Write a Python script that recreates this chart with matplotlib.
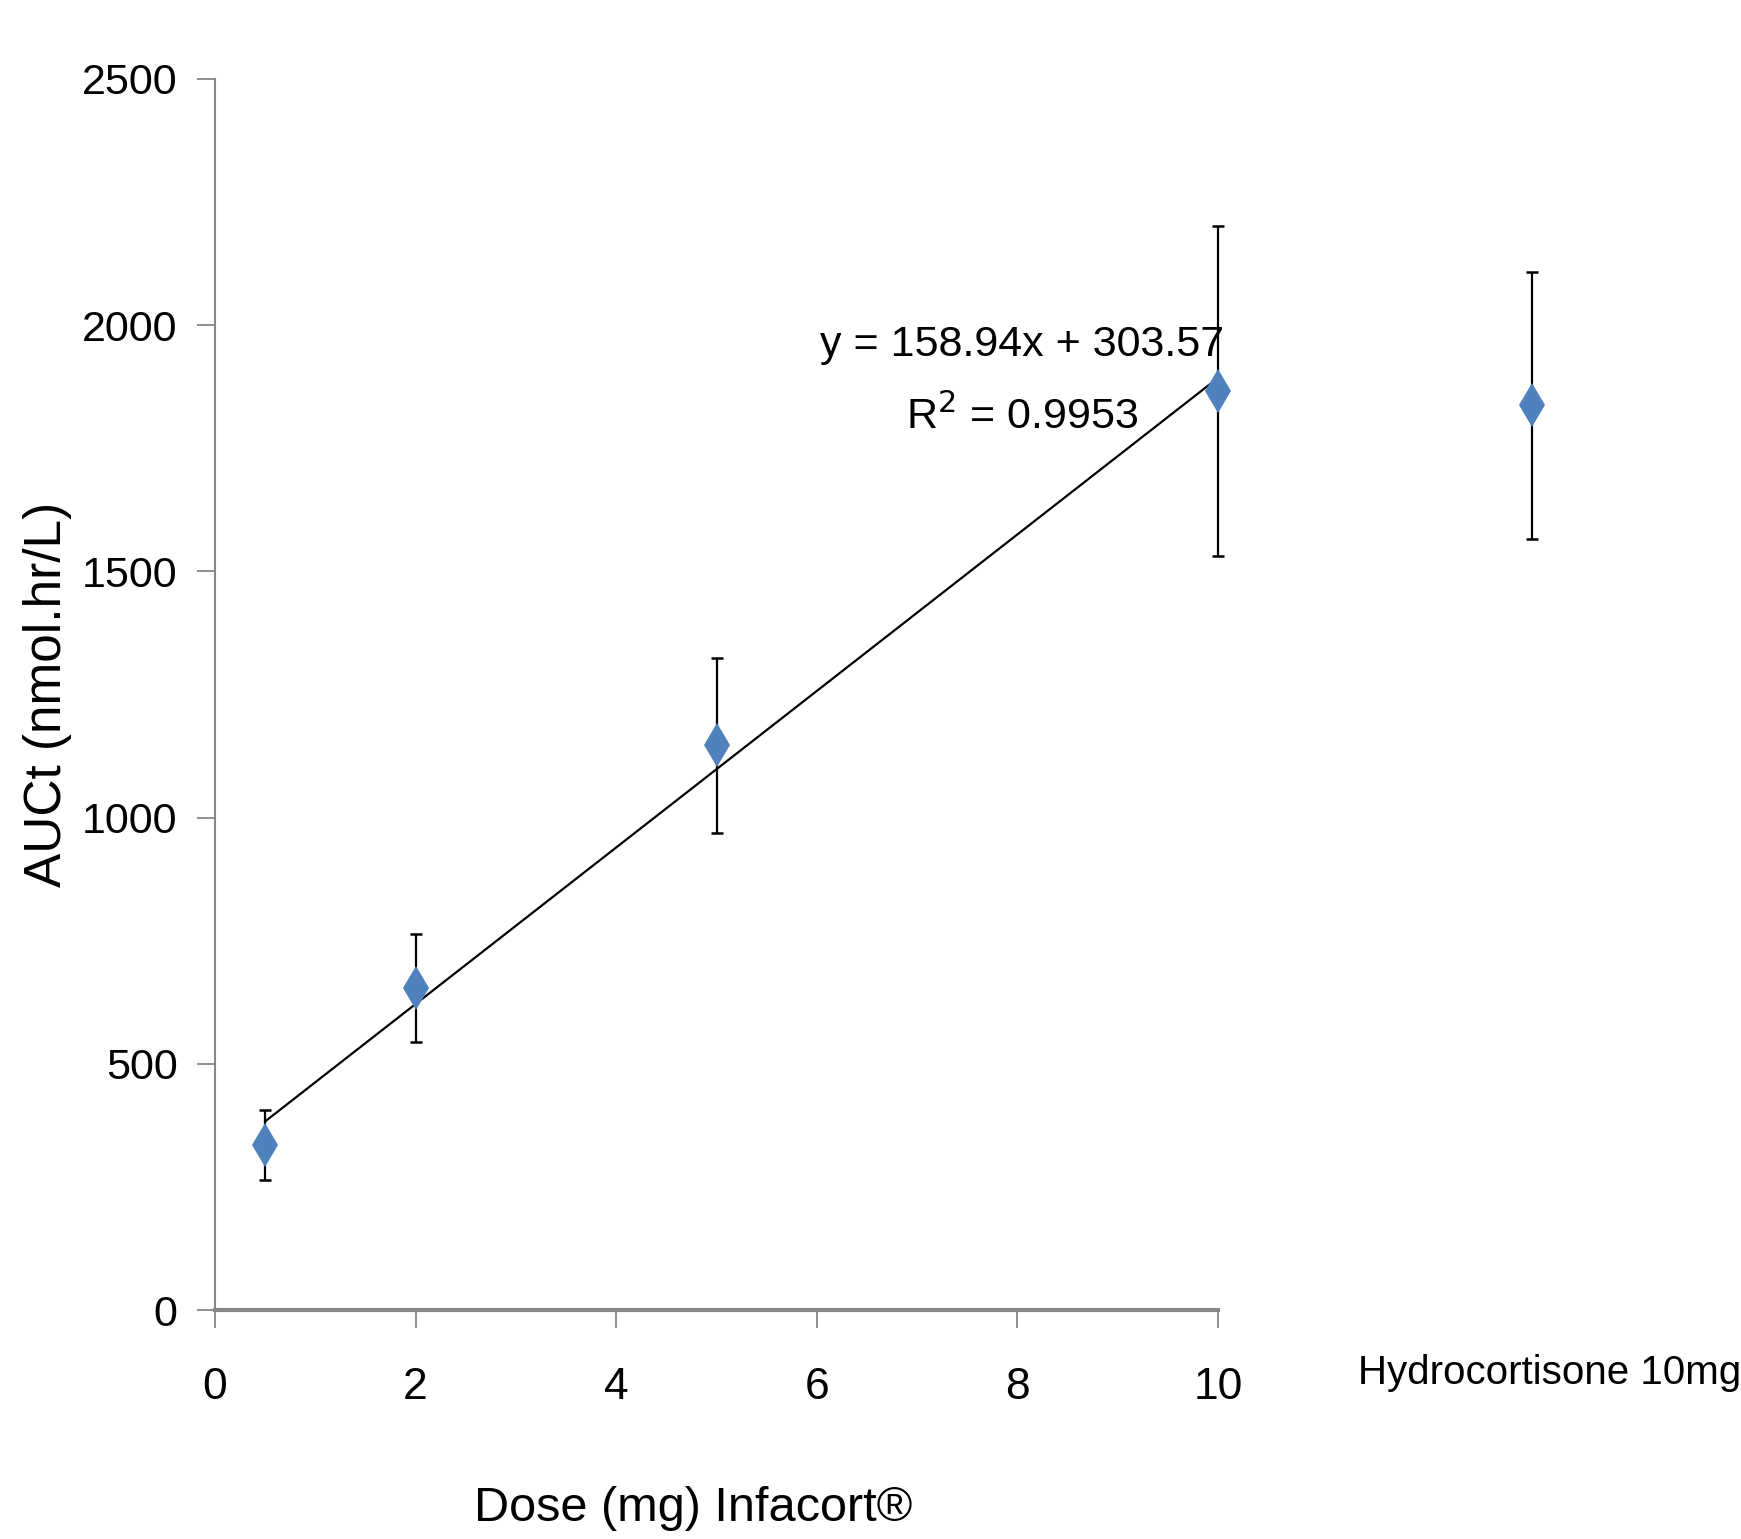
import numpy as np
import matplotlib
matplotlib.use('Agg')
from matplotlib import pyplot as plt

# values
dose = [0.5, 2, 5, 10]
auc = [336, 654, 1147, 1867]
auc_err = [71, 110, 178, 335]

hc_x = 13.13          # position of the hydrocortisone column (no axis scale there)
hc_auc = 1837
hc_err = 272
hc_label = 'Hydrocortisone 10mg'

slope, intercept = 158.94, 303.57
r2 = 0.9953

yticks = [0, 500, 1000, 1500, 2000, 2500]
xticks = [0, 2, 4, 6, 8, 10]

fam = ['Liberation Sans', 'DejaVu Sans']
blue = '#4F81BD'
grey = '#868686'

fig = plt.figure(figsize=(17.41, 15.39), dpi=100)
ax = fig.add_axes([215/1741, 1 - 1310/1539, 1 - 215/1741, (1310 - 79)/1539])

# trend line over the infacort doses
fx = np.array([dose[0], dose[-1]])
ax.plot(fx, slope*fx + intercept, color='black', lw=1.6, zorder=2)

ax.errorbar(dose, auc, yerr=auc_err, fmt='none', ecolor='black',
            elinewidth=1.6, capsize=4, capthick=1.8, zorder=1)
ax.errorbar([hc_x], [hc_auc], yerr=[hc_err], fmt='none', ecolor='black',
            elinewidth=1.6, capsize=4, capthick=1.8, zorder=1)
ax.plot(dose + [hc_x], auc + [hc_auc], linestyle='none', marker='d',
        markersize=22, color=blue, markeredgewidth=0, zorder=3)

ax.set_xlim(0, (1741 - 215)/100.3)
ax.set_ylim(0, 2500)

for s in ['top', 'right']:
    ax.spines[s].set_visible(False)
ax.spines['left'].set_color(grey)
ax.spines['left'].set_linewidth(1.5)
ax.spines['bottom'].set_color(grey)
ax.spines['bottom'].set_linewidth(3)
ax.spines['bottom'].set_bounds(0, 10)

ax.set_xticks(xticks)
ax.set_yticks(yticks)
ax.tick_params(axis='both', direction='out', length=13, width=1.3, color=grey)
ax.set_xticklabels([str(v) for v in xticks], family=fam, fontsize=32)
ax.set_yticklabels([str(v) for v in yticks], family=fam, fontsize=31)
ax.tick_params(axis='x', pad=28)
ax.tick_params(axis='y', pad=14)

ax.text(1.0, 1 - 1373/1539, hc_label, ha='right', va='center',
        transform=fig.transFigure, family=fam, fontsize=29)

ax.text(8.05, 1960, f'y = {slope}x + {intercept}', ha='center', va='center',
        family=fam, fontsize=31)
ax.text(8.05, 1815, f'R$^2$ = {r2}', ha='center', va='center',
        family=fam, fontsize=31)

ax.set_xlabel('Dose (mg) Infacort®', family=fam, fontsize=35)
ax.xaxis.set_label_coords(4.77/15.21, -0.143)
ax.set_ylabel('AUCt (nmol.hr/L)', family=fam, fontsize=37)
ax.yaxis.set_label_coords(-0.094, 0.5)

fig.savefig('out.png', dpi=100)
